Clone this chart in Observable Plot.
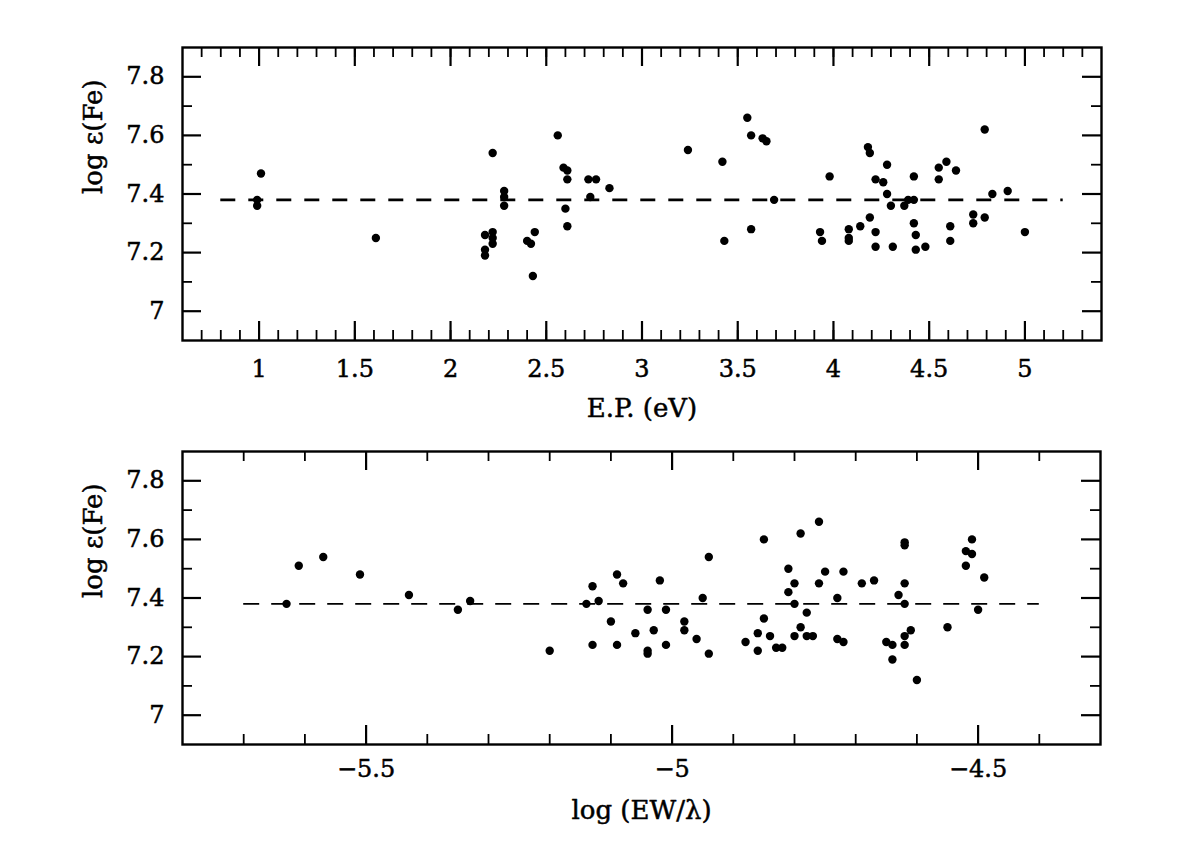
<!DOCTYPE html>
<html>
<head>
<meta charset="utf-8">
<script src="https://cdn.jsdelivr.net/npm/d3@7"></script>
<script src="https://cdn.jsdelivr.net/npm/@observablehq/plot@0.6"></script>
<style>
  body { margin: 0; background: #fff; }
  #wrap { width: 1200px; height: 863px; overflow: hidden; }
  svg { display: block; }
</style>
</head>
<body>
<div id="wrap"></div>
<script>
// ---- Data ----
const epX = [1.01,0.99,0.99,1.61,2.18,2.18,2.18,2.22,2.22,2.22,2.22,2.28,2.28,2.28,2.40,2.42,2.44,2.43,2.56,2.59,2.61,2.61,2.60,2.61,2.72,2.76,2.73,2.83,3.24,3.42,3.43,3.55,3.57,3.63,3.65,3.57,3.69,3.98,3.93,3.94,4.08,4.08,4.08,4.14,4.18,4.19,4.19,4.22,4.26,4.28,4.28,4.22,4.22,4.30,4.31,4.37,4.39,4.42,4.42,4.42,4.43,4.43,4.48,4.55,4.55,4.59,4.64,4.61,4.61,4.73,4.73,4.79,4.79,4.83,4.91,5.00];
const epFe = [7.47,7.38,7.36,7.25,7.26,7.21,7.19,7.54,7.27,7.25,7.23,7.41,7.39,7.36,7.24,7.23,7.27,7.12,7.60,7.49,7.48,7.45,7.35,7.29,7.45,7.45,7.39,7.42,7.55,7.51,7.24,7.66,7.60,7.59,7.58,7.28,7.38,7.46,7.27,7.24,7.28,7.25,7.24,7.29,7.56,7.54,7.32,7.45,7.44,7.50,7.40,7.27,7.22,7.36,7.22,7.36,7.38,7.38,7.46,7.30,7.26,7.21,7.22,7.49,7.45,7.51,7.48,7.29,7.24,7.33,7.30,7.62,7.32,7.40,7.41,7.27];

const ewX = [-5.63,-5.61,-5.57,-5.51,-5.43,-5.35,-5.33,-5.20,-5.14,-5.13,-5.12,-5.13,-5.10,-5.09,-5.08,-5.09,-5.06,-5.04,-5.03,-5.04,-5.04,-5.02,-5.01,-5.01,-4.98,-4.98,-4.96,-4.95,-4.94,-4.94,-4.88,-4.86,-4.86,-4.85,-4.85,-4.84,-4.83,-4.82,-4.81,-4.80,-4.81,-4.80,-4.80,-4.79,-4.79,-4.78,-4.78,-4.77,-4.76,-4.76,-4.75,-4.73,-4.73,-4.72,-4.72,-4.69,-4.67,-4.65,-4.64,-4.64,-4.63,-4.62,-4.62,-4.62,-4.62,-4.62,-4.62,-4.61,-4.60,-4.55,-4.52,-4.51,-4.51,-4.52,-4.50,-4.49];
const ewFe = [7.38,7.51,7.54,7.48,7.41,7.36,7.39,7.22,7.38,7.44,7.39,7.24,7.32,7.48,7.45,7.24,7.28,7.36,7.29,7.22,7.21,7.46,7.36,7.24,7.32,7.29,7.26,7.40,7.54,7.21,7.25,7.28,7.22,7.33,7.60,7.27,7.23,7.23,7.50,7.45,7.42,7.38,7.27,7.62,7.30,7.35,7.27,7.27,7.66,7.45,7.49,7.40,7.26,7.49,7.25,7.45,7.46,7.25,7.24,7.19,7.41,7.59,7.58,7.45,7.38,7.27,7.24,7.29,7.12,7.30,7.56,7.60,7.55,7.51,7.36,7.47];

const meanFe = 7.38;
const epLineRange = [0.8, 5.2];
const ewLineRange = [-5.7, -4.4];

const epDomain = [0.6, 5.4];
const ewDomain = [-5.8, -4.3];
const feDomain = [6.9, 7.9];

const epMajor = [1, 1.5, 2, 2.5, 3, 3.5, 4, 4.5, 5];
const ewMajor = [-5.5, -5, -4.5];
const feMajor = [7, 7.2, 7.4, 7.6, 7.8];
const epMinor = d3.range(7, 54).map(d => d / 10);
const ewMinor = d3.range(-57, -43).map(d => d / 10);
const feMinor = [7.1, 7.3, 7.5, 7.7];

const epTitle = "E.P. (eV)";
const ewTitle = "log (EW/λ)";
const feTitle = "log ε(Fe)";

const FONT = "DejaVu Serif";

function panel({xs, ys, xDomain, xMajor, xMinor, lineRange, xTitle, height, marginTop, marginBottom, marginRight, xPad, titleDy, dash, dashWidth}) {
  const W = 1200, ML = 182;
  const ph = height - marginTop - marginBottom;
  const pw = W - ML - marginRight;
  const major = 19, minor = 10;
  const pts = xs.map((x, i) => ({x, y: ys[i]}));
  const fmt = d => String(d).replace("-", "\u2212");
  const txt = {fontFamily: FONT, letterSpacing: 1.5, fill: "#000", stroke: "#000", strokeWidth: 0.5};
  return Plot.plot({
    width: W, height, marginLeft: ML, marginRight, marginTop, marginBottom,
    style: {fontFamily: FONT, fontSize: "24px", background: "#fff", color: "#000"},
    x: {domain: xDomain, axis: null},
    y: {domain: feDomain, axis: null},
    marks: [
      // inward ticks on all four sides
      Plot.tickX(xMinor, {x: d => d, insetTop: ph - minor, strokeWidth: 1.8}),
      Plot.tickX(xMinor, {x: d => d, insetBottom: ph - minor, strokeWidth: 1.8}),
      Plot.tickX(xMajor, {x: d => d, insetTop: ph - major, strokeWidth: 2.2}),
      Plot.tickX(xMajor, {x: d => d, insetBottom: ph - major, strokeWidth: 2.2}),
      Plot.tickY(feMinor, {y: d => d, insetRight: pw - minor, strokeWidth: 1.8}),
      Plot.tickY(feMinor, {y: d => d, insetLeft: pw - minor, strokeWidth: 1.8}),
      Plot.tickY(feMajor, {y: d => d, insetRight: pw - major, strokeWidth: 2.2}),
      Plot.tickY(feMajor, {y: d => d, insetLeft: pw - major, strokeWidth: 2.2}),
      Plot.frame({stroke: "#000", strokeWidth: 2.4}),
      // tick labels
      Plot.text(xMajor, {x: d => d, frameAnchor: "bottom", dy: xPad, lineAnchor: "top", text: fmt, fontSize: 24, ...txt}),
      Plot.text(feMajor, {y: d => d, frameAnchor: "left", dx: -18, textAnchor: "end", text: fmt, fontSize: 24, ...txt}),
      // mean line
      Plot.ruleY([meanFe], {x1: lineRange[0], x2: lineRange[1], stroke: "#000", strokeWidth: dashWidth, strokeDasharray: dash}),
      // data
      Plot.dot(pts, {x: "x", y: "y", r: 4.2, fill: "#000", stroke: "none"}),
      // titles
      Plot.text([xTitle], {frameAnchor: "bottom", dy: titleDy, text: d => d, fontSize: 26, lineAnchor: "middle", ...txt}),
      Plot.text([feTitle], {frameAnchor: "left", dx: -89, text: d => d, rotate: -90, fontSize: 26, lineAnchor: "middle", ...txt})
    ]
  });
}

const wrap = document.getElementById("wrap");
wrap.appendChild(panel({
  xs: epX, ys: epFe, xDomain: epDomain, xMajor: epMajor, xMinor: epMinor, lineRange: epLineRange,
  xTitle: epTitle, height: 430, marginTop: 47, marginBottom: 90, marginRight: 99,
  xPad: 19, titleDy: 68, dash: "15,13", dashWidth: 2.6
}));
wrap.appendChild(panel({
  xs: ewX, ys: ewFe, xDomain: ewDomain, xMajor: ewMajor, xMinor: ewMinor, lineRange: ewLineRange,
  xTitle: ewTitle, height: 433, marginTop: 21, marginBottom: 119, marginRight: 100,
  xPad: 15, titleDy: 66, dash: "16,12", dashWidth: 1.6
}));
</script>
</body>
</html>
